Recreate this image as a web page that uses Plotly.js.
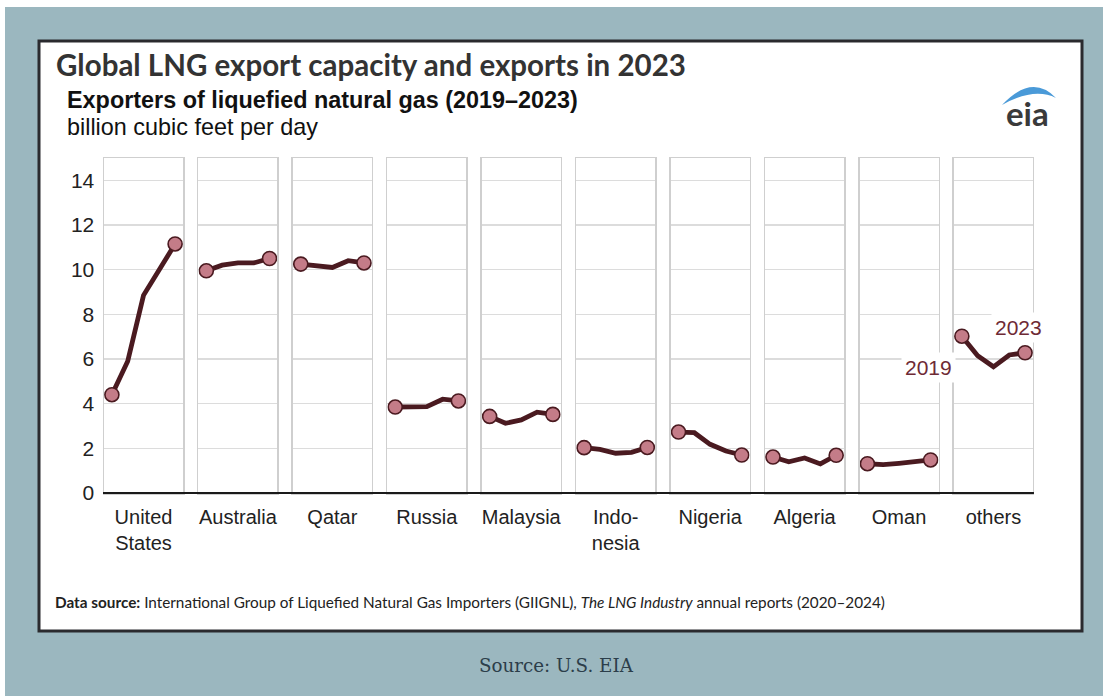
<!DOCTYPE html>
<html>
<head>
<meta charset="utf-8">
<script src="https://cdn.plot.ly/plotly-3.0.1.min.js"></script>
<style>html,body{margin:0;padding:0;background:#9bb7bf;}#chart{width:1103px;height:696px;}</style>
</head>
<body>
<div id="chart"></div>
<script>
// ---- data ----
const years = [2019, 2020, 2021, 2022, 2023];
const countries = ["United<br>States", "Australia", "Qatar", "Russia", "Malaysia", "Indo-<br>nesia", "Nigeria", "Algeria", "Oman", "others"];
const unitedStates = [4.4, 5.9, 8.85, 10.0, 11.15];
const australia    = [9.95, 10.2, 10.3, 10.3, 10.5];
const qatar        = [10.25, 10.15, 10.1, 10.4, 10.3];
const russia       = [3.85, 3.85, 3.87, 4.2, 4.12];
const malaysia     = [3.43, 3.12, 3.27, 3.62, 3.52];
const indonesia    = [2.03, 1.95, 1.78, 1.82, 2.04];
const nigeria      = [2.73, 2.7, 2.18, 1.88, 1.7];
const algeria      = [1.61, 1.4, 1.57, 1.3, 1.69];
const oman         = [1.31, 1.27, 1.33, 1.42, 1.48];
const others       = [7.02, 6.15, 5.65, 6.18, 6.28];
const yTicks = [0, 2, 4, 6, 8, 10, 12, 14];
const series = [unitedStates, australia, qatar, russia, malaysia, indonesia, nigeria, algeria, oman, others];

// ---- layout geometry (pixels) ----
const W = 1103, H = 696;
const px = x => x / W;
const py = y => 1 - y / H;
const panelLeft = 104, panelW = 79, panelGap = 15.44;
const plotTop = 158, plotBottom = 493;

const lineColor = "#4a1a20";
const markerFill = "#c47c88";
const textColor = "#222222";

const traces = [];
const layout = {
  width: W, height: H,
  margin: {l: 0, r: 0, t: 0, b: 0},
  paper_bgcolor: "#9bb7bf",
  plot_bgcolor: "#ffffff",
  showlegend: false,
  font: {family: "Liberation Sans, Arial, sans-serif", color: textColor},
  shapes: [],
  annotations: []
};

series.forEach((vals, i) => {
  const n = i + 1;
  const xa = "xaxis" + (n === 1 ? "" : n);
  const ya = "yaxis" + (n === 1 ? "" : n);
  traces.push({
    type: "scatter", mode: "lines",
    x: years, y: vals,
    xaxis: "x" + (n === 1 ? "" : n), yaxis: "y" + (n === 1 ? "" : n),
    line: {color: lineColor, width: 4.8},
    hoverinfo: "x+y"
  });
  traces.push({
    type: "scatter", mode: "markers",
    x: [years[0], years[years.length - 1]], y: [vals[0], vals[vals.length - 1]],
    xaxis: "x" + (n === 1 ? "" : n), yaxis: "y" + (n === 1 ? "" : n),
    marker: {color: markerFill, size: 14, line: {color: lineColor, width: 1.6}},
    hoverinfo: "x+y"
  });
  const x0 = panelLeft + i * (panelW + panelGap);
  layout[xa] = {
    domain: [px(x0), px(x0 + panelW)],
    range: [2018.5, 2023.5],
    showgrid: false, zeroline: false,
    showline: true, mirror: true, linecolor: "#cfcfcf", linewidth: 1.5,
    tickmode: "array", tickvals: [2021], ticktext: [countries[i]],
    ticks: "", tickfont: {size: 20, color: textColor},
    ticklabelstandoff: 5,
    anchor: "y" + (n === 1 ? "" : n),
    fixedrange: true
  };
  layout[ya] = {
    domain: [py(plotBottom), py(plotTop)],
    range: [0, 15],
    showgrid: true, gridcolor: "#dcdcdc", gridwidth: 1.5,
    zeroline: false,
    showline: true, mirror: true, linecolor: "#cfcfcf", linewidth: 1.5,
    tickmode: "array", tickvals: yTicks,
    showticklabels: n === 1,
    ticks: "", tickfont: {size: 21, color: textColor},
    ticklabelstandoff: 4,
    anchor: "x" + (n === 1 ? "" : n),
    fixedrange: true
  };
});

// white card with dark border
layout.shapes.push({type: "rect", xref: "paper", yref: "paper", layer: "below",
  x0: px(0), x1: px(W), y0: py(0), y1: py(7), fillcolor: "#ffffff", line: {width: 0}});
layout.shapes.push({type: "rect", xref: "paper", yref: "paper", layer: "below",
  x0: px(0), x1: px(5), y0: py(0), y1: py(H), fillcolor: "#ffffff", line: {width: 0}});
layout.shapes.push({type: "rect", xref: "paper", yref: "paper", layer: "below",
  x0: px(39), x1: px(1082), y0: py(631), y1: py(41), fillcolor: "#ffffff",
  line: {color: "#2a2a2e", width: 3}});
// bottom axis line
layout.shapes.push({type: "line", xref: "paper", yref: "paper",
  x0: px(panelLeft - 1), x1: px(panelLeft + 10 * panelW + 9 * panelGap + 1),
  y0: py(plotBottom), y1: py(plotBottom), line: {color: "#1a1a1a", width: 2}});
// eia logo swoosh
const sw = (x, y) => px(x).toFixed(5) + "," + py(y).toFixed(5);
layout.shapes.push({type: "path", xref: "paper", yref: "paper",
  path: "M" + sw(1002, 105) + " Q" + sw(1032, 73) + " " + sw(1056, 98) +
        " Q" + sw(1034, 87) + " " + sw(1002, 105) + " Z",
  fillcolor: "#4a9ad8", line: {width: 0}});

// texts
const A = layout.annotations;
A.push({xref: "paper", yref: "paper", x: px(54), y: py(65), xanchor: "left", yanchor: "middle",
  text: "<b>Global LNG export capacity and exports in 2023</b>", showarrow: false,
  font: {family: "Lato, sans-serif", size: 29.5, color: "#333333"}});
A.push({xref: "paper", yref: "paper", x: px(65), y: py(100), xanchor: "left", yanchor: "middle",
  text: "<b>Exporters of liquefied natural gas (2019–2023)</b>", showarrow: false,
  font: {family: "Liberation Sans, Arial, sans-serif", size: 23.4, color: "#111111"}});
A.push({xref: "paper", yref: "paper", x: px(65), y: py(127), xanchor: "left", yanchor: "middle",
  text: "billion cubic feet per day", showarrow: false,
  font: {family: "Liberation Sans, Arial, sans-serif", size: 23.4, color: "#111111"}});
A.push({xref: "paper", yref: "paper", x: px(1027), y: py(113), xanchor: "center", yanchor: "middle",
  text: "<b>eia</b>", showarrow: false,
  font: {family: "Lato, sans-serif", size: 33, color: "#3a3a3a"}});
A.push({xref: "paper", yref: "paper", x: px(53), y: py(602), xanchor: "left", yanchor: "middle",
  text: "<b>Data source:</b> International Group of Liquefied Natural Gas Importers (GIIGNL), <i>The LNG Industry</i> annual reports (2020–2024)",
  showarrow: false, font: {family: "Lato, sans-serif", size: 15.3, color: "#222222"}});
A.push({xref: "paper", yref: "paper", x: px(556), y: py(665), xanchor: "center", yanchor: "middle",
  text: "Source: U.S. EIA", showarrow: false,
  font: {family: "DejaVu Serif, serif", size: 18.3, color: "#2c3e4a"}});
// year labels on "others"
A.push({xref: "x10", yref: "y10", x: years[0], y: others[0], xanchor: "right", yanchor: "middle",
  xshift: -6, yshift: -31, text: "2019", showarrow: false, bgcolor: "#ffffff", borderpad: 3,
  font: {family: "Liberation Sans, Arial, sans-serif", size: 21, color: "#6e2a35"}});
A.push({xref: "x10", yref: "y10", x: years[4], y: others[4], xanchor: "center", yanchor: "middle",
  xshift: -7, yshift: 25, text: "2023", showarrow: false, bgcolor: "#ffffff", borderpad: 3,
  font: {family: "Liberation Sans, Arial, sans-serif", size: 21, color: "#6e2a35"}});

Plotly.newPlot("chart", traces, layout, {displayModeBar: false, staticPlot: true});
</script>
</body>
</html>
